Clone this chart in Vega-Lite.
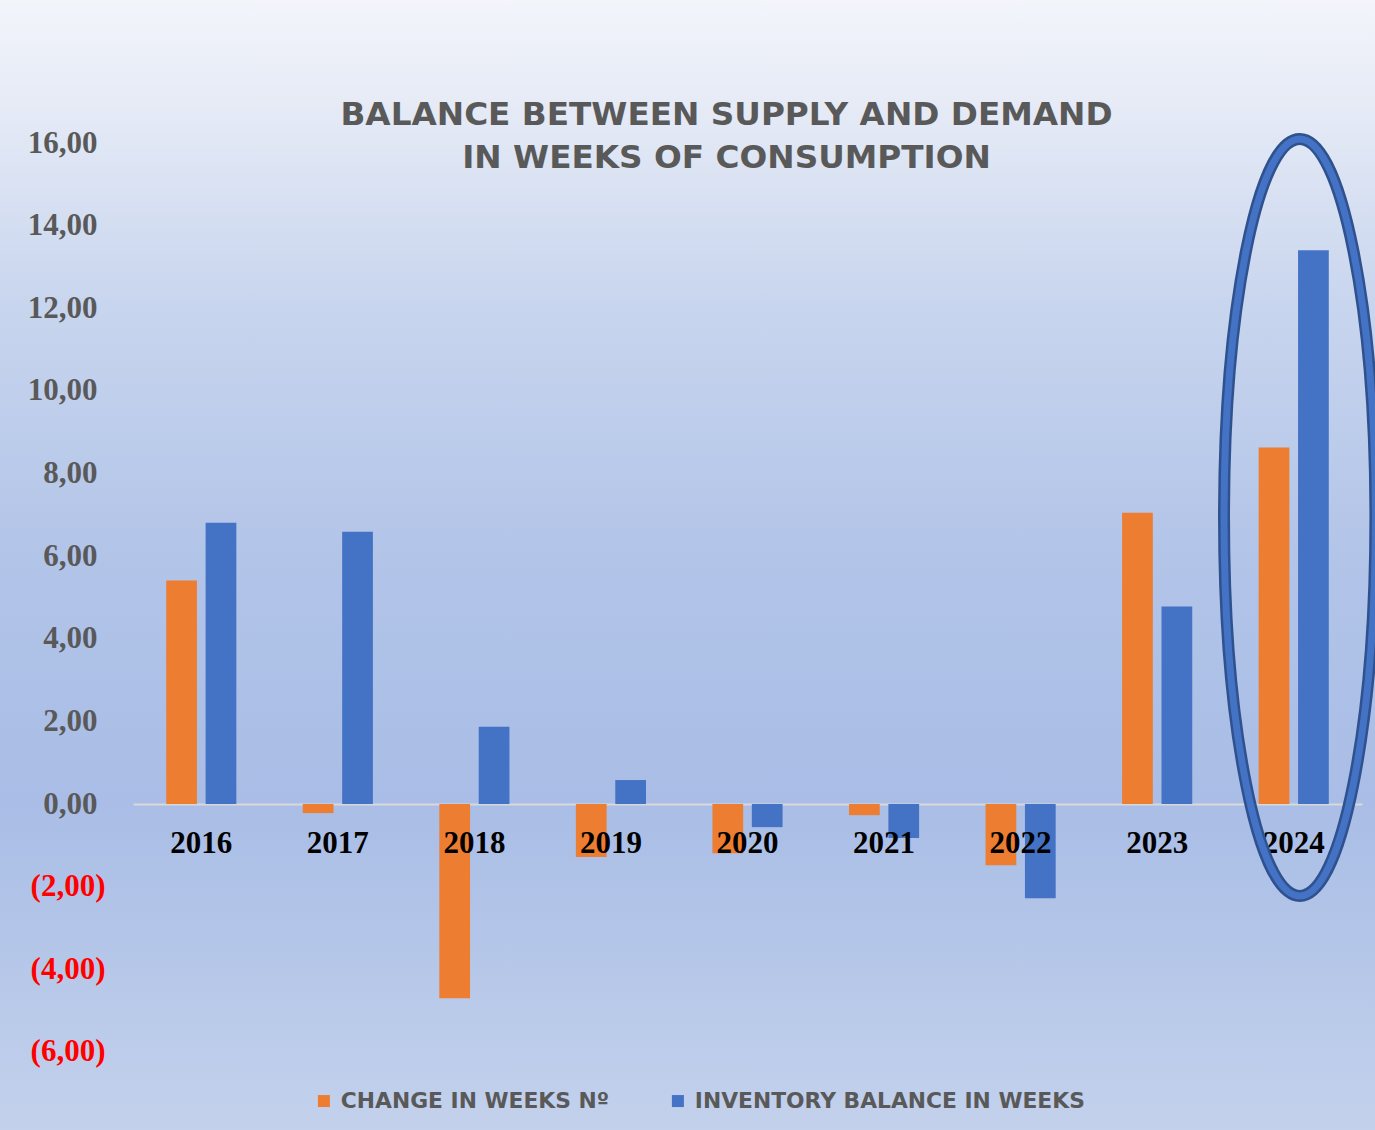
{
  "$schema": "https://vega.github.io/schema/vega-lite/v6.json",
  "width": 1375,
  "height": 1130,
  "autosize": "none",
  "padding": 0,
  "background": "#b7c8e9",
  "config": {
    "view": {
      "stroke": null,
      "fill": {
        "gradient": "linear",
        "x1": 0, "y1": 0, "x2": 0, "y2": 1,
        "stops": [
          {"offset": 0, "color": "#f3f5fb"},
          {"offset": 0.09, "color": "#e6ebf6"},
          {"offset": 0.27, "color": "#c8d5ee"},
          {"offset": 0.49, "color": "#b2c4e8"},
          {"offset": 0.71, "color": "#a9bde6"},
          {"offset": 0.88, "color": "#b8c9e9"},
          {"offset": 1, "color": "#c3d1ec"}
        ]
      }
    }
  },
  "title": {
    "text": ["BALANCE BETWEEN SUPPLY AND DEMAND", "IN WEEKS OF CONSUMPTION"],
    "font": "DejaVu Sans",
    "fontWeight": "bold",
    "fontSize": 32.7,
    "color": "#595959",
    "anchor": "middle",
    "dx": 39,
    "offset": -175,
    "lineHeight": 43
  },
  "datasets": {
    "bars": [
      {"year": "2016", "series": "Change in Weeks Nº", "value": 5.41},
      {"year": "2016", "series": "Inventory Balance in Weeks", "value": 6.81},
      {"year": "2017", "series": "Change in Weeks Nº", "value": -0.22},
      {"year": "2017", "series": "Inventory Balance in Weeks", "value": 6.59},
      {"year": "2018", "series": "Change in Weeks Nº", "value": -4.70},
      {"year": "2018", "series": "Inventory Balance in Weeks", "value": 1.87},
      {"year": "2019", "series": "Change in Weeks Nº", "value": -1.28},
      {"year": "2019", "series": "Inventory Balance in Weeks", "value": 0.58},
      {"year": "2020", "series": "Change in Weeks Nº", "value": -1.19},
      {"year": "2020", "series": "Inventory Balance in Weeks", "value": -0.56},
      {"year": "2021", "series": "Change in Weeks Nº", "value": -0.27},
      {"year": "2021", "series": "Inventory Balance in Weeks", "value": -0.82},
      {"year": "2022", "series": "Change in Weeks Nº", "value": -1.48},
      {"year": "2022", "series": "Inventory Balance in Weeks", "value": -2.28},
      {"year": "2023", "series": "Change in Weeks Nº", "value": 7.05},
      {"year": "2023", "series": "Inventory Balance in Weeks", "value": 4.78},
      {"year": "2024", "series": "Change in Weeks Nº", "value": 8.63},
      {"year": "2024", "series": "Inventory Balance in Weeks", "value": 13.41}
    ],
    "highlight": [
      {"year": "2024", "center": 6.94}
    ]
  },
  "layer": [
    {
      "data": {"name": "bars"},
      "mark": {"type": "bar"},
      "encoding": {
        "x": {
          "field": "year",
          "type": "nominal",
          "scale": {"range": [133, 1362], "paddingInner": 0, "paddingOuter": 0},
          "axis": {
            "orient": "bottom",
            "offset": -326,
            "title": null,
            "labels": false,
            "ticks": false,
            "domain": true,
            "domainColor": "#d9d9d9",
            "domainWidth": 2,
            "grid": false
          }
        },
        "xOffset": {
          "field": "series",
          "type": "nominal",
          "scale": {"paddingInner": 0.22, "paddingOuter": 0.843}
        },
        "y": {
          "field": "value",
          "type": "quantitative",
          "scale": {"domain": [-7.893, 19.467], "nice": false, "zero": false},
          "axis": {
            "orient": "left",
            "offset": -105,
            "title": null,
            "values": [-6, -4, -2, 0, 2, 4, 6, 8, 10, 12, 14, 16],
            "labelExpr": "datum.value < 0 ? '(' + replace(format(-datum.value, '.2f'), '.', ',') + ')' : replace(format(datum.value, '.2f'), '.', ',')",
            "labelFont": "Liberation Serif",
            "labelFontWeight": "bold",
            "labelFontSize": 31,
            "labelColor": {"condition": {"test": "datum.value < 0", "value": "#ff0000"}, "value": "#595959"},
            "labelPadding": {"condition": {"test": "datum.value >= 0", "value": 8}, "value": 0},
            "labelAlign": "right",
            "labelBaseline": "middle",
            "ticks": false,
            "domain": false,
            "grid": false
          }
        },
        "color": {
          "field": "series",
          "type": "nominal",
          "scale": {
            "domain": ["Change in Weeks Nº", "Inventory Balance in Weeks"],
            "range": ["#ED7D31", "#4472C4"]
          },
          "legend": {
            "title": null,
            "orient": "none",
            "legendX": 313,
            "legendY": 1090,
            "direction": "horizontal",
            "symbolType": "square",
            "symbolSize": 144,
            "symbolStrokeWidth": 0,
            "labelFont": "DejaVu Sans",
            "labelFontWeight": "bold",
            "labelFontSize": 21.8,
            "labelColor": "#595959",
            "labelOffset": 6,
            "labelLimit": 600,
            "columnPadding": 58,
            "labelExpr": "upper(datum.label)"
          }
        }
      }
    },
    {
      "data": {"name": "bars"},
      "transform": [{"filter": "datum.series === 'Change in Weeks Nº'"}],
      "mark": {
        "type": "text",
        "font": "Liberation Serif",
        "fontWeight": "bold",
        "fontSize": 31,
        "color": "#000000",
        "baseline": "alphabetic",
        "align": "center",
        "dy": 49
      },
      "encoding": {
        "x": {"field": "year", "type": "nominal"},
        "y": {"datum": 0},
        "text": {"field": "year"}
      }
    },
    {
      "data": {"name": "highlight"},
      "mark": {
        "type": "point",
        "shape": "M0,-1 C0.11,-1 0.2,-0.5523 0.2,0 C0.2,0.5523 0.11,1 0,1 C-0.11,1 -0.2,0.5523 -0.2,0 C-0.2,-0.5523 -0.11,-1 0,-1 Z",
        "size": 573049,
        "filled": false,
        "stroke": "#2f528f",
        "strokeWidth": 12,
        "opacity": 1,
        "xOffset": 6
      },
      "encoding": {
        "x": {"field": "year", "type": "nominal"},
        "y": {"field": "center", "type": "quantitative"}
      }
    },
    {
      "data": {"name": "highlight"},
      "mark": {
        "type": "point",
        "shape": "M0,-1 C0.11,-1 0.2,-0.5523 0.2,0 C0.2,0.5523 0.11,1 0,1 C-0.11,1 -0.2,0.5523 -0.2,0 C-0.2,-0.5523 -0.11,-1 0,-1 Z",
        "size": 573049,
        "filled": false,
        "stroke": "#4472C4",
        "strokeWidth": 7,
        "opacity": 1,
        "xOffset": 6
      },
      "encoding": {
        "x": {"field": "year", "type": "nominal"},
        "y": {"field": "center", "type": "quantitative"}
      }
    }
  ]
}
